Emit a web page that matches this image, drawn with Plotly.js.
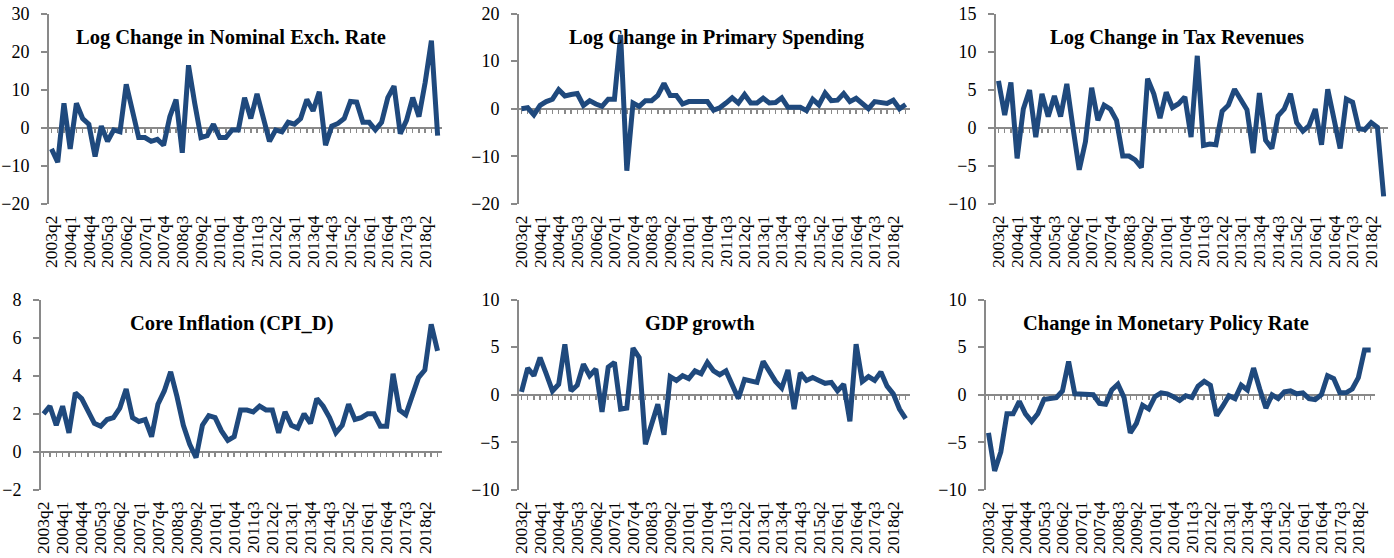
<!DOCTYPE html>
<html><head><meta charset="utf-8">
<script src="https://cdn.plot.ly/plotly-3.0.1.min.js"></script>
<style>html,body{margin:0;padding:0;background:#fff;}#chart{width:1394px;height:558px;}</style>
</head><body><div id="chart"></div>
<script>
const quarters = ["2003q2","2003q3","2003q4",
"2004q1","2004q2","2004q3","2004q4","2005q1","2005q2","2005q3","2005q4",
"2006q1","2006q2","2006q3","2006q4","2007q1","2007q2","2007q3","2007q4",
"2008q1","2008q2","2008q3","2008q4","2009q1","2009q2","2009q3","2009q4",
"2010q1","2010q2","2010q3","2010q4","2011q1","2011q2","2011q3","2011q4",
"2012q1","2012q2","2012q3","2012q4","2013q1","2013q2","2013q3","2013q4",
"2014q1","2014q2","2014q3","2014q4","2015q1","2015q2","2015q3","2015q4",
"2016q1","2016q2","2016q3","2016q4","2017q1","2017q2","2017q3","2017q4",
"2018q1","2018q2","2018q3","2018q4"];
const tickLabels = ["2003q2","2004q1","2004q4","2005q3","2006q2","2007q1","2007q4","2008q3","2009q2","2010q1","2010q4","2011q3","2012q2","2013q1","2013q4","2014q3","2015q2","2016q1","2016q4","2017q3","2018q2"];

const exchRate = [-5.5,-9,6.5,-5.5,6.5,2.5,1,-7.5,0.5,-3.5,-0.5,-1,11.5,4,-2.5,-2.5,-3.5,-3,-4.5,3,7.5,-6.5,16.5,6.5,-2.5,-2,1,-2.5,-2.5,-0.5,-0.5,8,2.5,9,3,-3.5,-0.5,-1,1.5,1,2.5,7.5,4.5,9.5,-4.5,0.5,1.2,2.5,7,6.8,1.5,1.5,-0.5,1.5,8,11,-1.5,2,8,3,12,23,-2];
const primarySpending = [0,0.2,-1.3,0.7,1.5,2,4,2.7,3,3.2,0.7,1.7,1,0.5,2,2,15.5,-13,1.2,0.5,1.7,1.7,2.8,5.3,2.8,2.8,1,1.5,1.5,1.5,1.5,-0.3,0.2,1.2,2.3,1.2,3,1.2,1.2,2.2,1.2,1.3,2.3,0.3,0.4,0.3,-0.4,2,0.8,3.3,1.7,1.8,3.2,1.5,2.2,1.2,0,1.5,1.4,1.1,1.8,0,0.9];
const taxRevenues = [6.2,1.7,6,-4,2.5,5,-1.2,4.5,1.5,4.2,1.5,5.8,0,-5.5,-1.8,5.3,1,3,2.5,1,-3.7,-3.7,-4.2,-5.2,6.5,4.5,1.3,4.7,2.7,3.2,4.1,-1.2,9.5,-2.3,-2.1,-2.2,2.2,3,5.1,3.8,2.4,-3.3,4.6,-1.6,-2.7,1.6,2.5,4.5,0.7,-0.4,0.3,2.5,-2.2,5.1,1.3,-2.7,3.8,3.4,-0.1,-0.2,0.7,0.1,-9];
const coreInflation = [2,2.4,1.4,2.4,1,3.1,2.8,2.1,1.5,1.35,1.7,1.8,2.3,3.3,1.8,1.6,1.7,0.8,2.5,3.2,4.2,2.9,1.4,0.4,-0.3,1.4,1.9,1.8,1.1,0.6,0.8,2.2,2.2,2.1,2.4,2.2,2.2,1,2.1,1.4,1.25,2,1.5,2.8,2.4,1.8,1,1.4,2.5,1.7,1.8,2,2,1.35,1.35,4.1,2.2,1.95,2.9,3.9,4.3,6.7,5.3];
const gdpGrowth = [0.3,2.8,2,3.9,2.2,0.4,1.1,5.3,0.4,1,3.2,2,2.7,-1.8,2.9,3.4,-1.5,-1.4,4.9,3.9,-5.2,-3,-1,-4.2,1.9,1.5,2,1.7,2.5,2.2,3.4,2.5,2.1,2.5,1.1,-0.4,1.6,1.5,1.3,3.5,2.5,1.4,0.7,2.6,-1.5,2.3,1.5,1.8,1.5,1.2,1.3,0.4,1.1,-2.8,5.3,1.4,1.9,1.5,2.4,0.9,0.1,-1.5,-2.5];
const policyRate = [-4,-8,-6,-2,-2,-0.7,-2,-2.8,-2,-0.5,-0.4,-0.3,0.4,3.5,0.1,0.1,0.05,0,-0.9,-1,0.5,1.1,-0.3,-4,-3,-1.1,-1.5,-0.2,0.2,0.1,-0.2,-0.6,-0.1,-0.3,0.9,1.4,1,-2.2,-1.2,-0.1,-0.4,1,0.5,2.8,0.6,-1.4,0,-0.4,0.3,0.4,0.1,0.2,-0.4,-0.5,0,2,1.7,0.2,0.2,0.6,1.8,4.7,4.7];

const W = 1394, H = 558;
const F = "Liberation Serif, Times New Roman, serif";
const G = "#898989";
const C = "#1F497D";
const xRange = [-0.4, 62.7];

const panels = [
  {title:"Log Change in Nominal Exch. Rate", y:exchRate, range:[-20,30], dtick:10, px:[49,442], py:[14,204], tx:231, ty:38},
  {title:"Log Change in Primary Spending", y:primarySpending, range:[-20,20], dtick:10, px:[519,910], py:[13.5,204], tx:717, ty:38},
  {title:"Log Change in Tax Revenues", y:taxRevenues, range:[-10,15], dtick:5, px:[996,1388], py:[14,204], tx:1177, ty:38},
  {title:"Core Inflation (CPI_D)", y:coreInflation, range:[-2,8], dtick:2, px:[41,442], py:[299.5,490], tx:231, ty:323},
  {title:"GDP growth", y:gdpGrowth, range:[-10,10], dtick:5, px:[519,910], py:[299.5,490], tx:700, ty:323},
  {title:"Change in Monetary Policy Rate", y:policyRate, range:[-10,10], dtick:5, px:[986,1375], py:[299.5,490], tx:1166, ty:323}
];

const data = [];
const layout = {
  width: W, height: H, margin:{l:0,r:0,t:0,b:0}, showlegend:false,
  paper_bgcolor:"#fff", plot_bgcolor:"rgba(0,0,0,0)", annotations:[]
};

panels.forEach((p, k) => {
  const n = k + 1, m = k + 7;
  const sx = n === 1 ? "" : String(n);
  const xa = "x" + sx, ya = "y" + sx;
  const xd = [p.px[0]/W, p.px[1]/W];
  const yd = [1 - p.py[1]/H, 1 - p.py[0]/H];
  layout["xaxis" + sx] = {
    type:"category", domain:xd, anchor:ya, range:xRange,
    tickmode:"array", tickvals:tickLabels, ticktext:tickLabels, tickangle:-90,
    showline:false, showgrid:false, zeroline:false, ticks:"",
    tickfont:{family:F, size:17.5, color:"#000"}, ticklabelstandoff:7
  };
  layout["yaxis" + sx] = {
    domain:yd, anchor:xa, range:p.range, dtick:p.dtick, tick0:0,
    showline:true, linecolor:G, linewidth:2, ticks:"outside", ticklen:6, tickwidth:2, tickcolor:G,
    showgrid:false, zeroline:false, tickfont:{family:F, size:18, color:"#000"}, ticklabelstandoff:8
  };
  const zeroFrac = yd[0] + (0 - p.range[0])/(p.range[1]-p.range[0])*(yd[1]-yd[0]);
  layout["xaxis" + m] = {
    type:"linear", overlaying:xa, anchor:"free", position:zeroFrac, range:xRange,
    tick0:0, dtick:1, ticks:"outside", ticklen:4, tickwidth:1.5, tickcolor:G,
    showline:true, linecolor:G, linewidth:2, showticklabels:false, showgrid:false, zeroline:false,
    layer:"below traces"
  };
  data.push({type:"scatter", mode:"lines", x:[], y:[], xaxis:"x"+m, yaxis:ya, hoverinfo:"skip"});
  data.push({type:"scatter", mode:"lines", x:quarters, y:p.y, xaxis:xa, yaxis:ya,
    line:{color:C, width:5}, hoverinfo:"skip"});
  layout.annotations.push({
    text:"<b>" + p.title + "</b>", xref:"paper", yref:"paper",
    x:p.tx/W, y:1 - p.ty/H, xanchor:"center", yanchor:"middle", showarrow:false,
    font:{family:F, size:20.5, color:"#000"}
  });
});

Plotly.newPlot("chart", data, layout, {staticPlot:true, displayModeBar:false});
</script></body></html>
